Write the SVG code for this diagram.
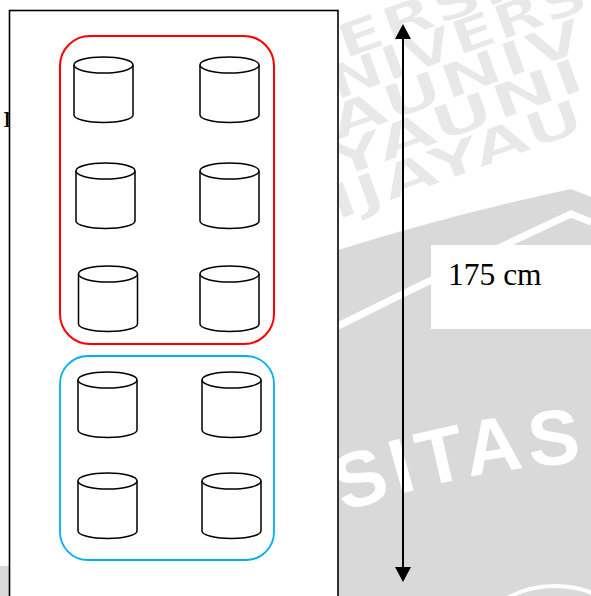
<svg xmlns="http://www.w3.org/2000/svg" width="591" height="596" viewBox="0 0 591 596">
  <style>
    .wm { fill: #e8e8e8; stroke: #ffffff; stroke-width: 1.5; font-family: "DejaVu Sans", "Liberation Sans", sans-serif; font-weight: bold; font-size: 48px; }
    .seal { fill: #ffffff; font-family: "Liberation Sans", Arial, sans-serif; font-weight: bold; font-size: 78px; letter-spacing: 5px; }
    .frame { fill: #ffffff; stroke: #000000; stroke-width: 1.6; }
    .zone-red { fill: none; stroke: #ff0000; stroke-width: 2; }
    .zone-blue { fill: none; stroke: #00b0f0; stroke-width: 1.8; }
    .cyl { fill: #ffffff; stroke: #000000; stroke-width: 1.5; }
    .dim { stroke: #000000; stroke-width: 2; fill: none; }
    .label { font-family: "Liberation Serif", "Times New Roman", serif; font-size: 31.5px; fill: #000000; }
  </style>
  <defs>
    <clipPath id="page">
      <rect x="0" y="0" width="591" height="596"/>
    </clipPath>
    <path id="sealArc" d="M300,530 Q460,462 620,462"/>
    <marker id="arrow" viewBox="0 0 15 16" markerUnits="userSpaceOnUse" markerWidth="15" markerHeight="16" refX="1" refY="8" orient="auto-start-reverse">
      <path d="M0,0 L15,8 L0,16 Z" fill="#000000"/>
    </marker>
    <!-- one drum: top ellipse at (0,0), body 50 high -->
    <g id="drum">
      <path class="cyl" d="M-29.5,0 V50 A29.5,7.5 0 0 0 29.5,50 V0"/>
      <ellipse class="cyl" cx="0" cy="0" rx="29.5" ry="8"/>
    </g>
  </defs>

  <!-- page background with faint watermark -->
  <rect x="0" y="0" width="591" height="596" fill="#ffffff"/>
  <g clip-path="url(#page)">
    <text class="wm" x="344" y="60" transform="rotate(-20 344 60)" textLength="272" lengthAdjust="spacingAndGlyphs">ERSITA</text>
    <text class="wm" x="336" y="101" transform="rotate(-20 336 101)" textLength="272" lengthAdjust="spacingAndGlyphs">NIVERS</text>
    <text class="wm" x="336" y="141" transform="rotate(-20 336 141)" textLength="268" lengthAdjust="spacingAndGlyphs">AUNIV</text>
    <text class="wm" x="336" y="180" transform="rotate(-20 336 180)" textLength="268" lengthAdjust="spacingAndGlyphs">YAUNI</text>
    <text class="wm" x="336" y="221" transform="rotate(-20 336 221)" textLength="268" lengthAdjust="spacingAndGlyphs">IJAYAU</text>

    <path d="M338,250 Q450,215 571,189 L591,197 V596 H338 Z" fill="#d9d9d9"/>
    <path d="M338,326 Q450,270 571,214 L591,222" fill="none" stroke="#ffffff" stroke-width="7"/>
    <text class="seal"><textPath href="#sealArc" startOffset="47">SITAS</textPath></text>
    <path d="M490,610 A100,100 0 0 1 620,610" fill="none" stroke="#ffffff" stroke-width="4"/>
    <rect x="0" y="566" width="9" height="30" fill="#d9d9d9"/>
  </g>

  <!-- stray text fragment left of the frame -->
  <text class="label" x="3.5" y="127">n</text>

  <!-- rack frame -->
  <g id="frame">
    <rect class="frame" x="9.5" y="10.5" width="328.5" height="600"/>
  </g>

  <!-- red zone with six drums -->
  <g id="zone-red">
    <rect class="zone-red" x="60" y="36" width="214" height="308" rx="30" ry="30"/>
  </g>
  <g id="drum-r1a"><use href="#drum" x="103.5" y="65"/></g>
  <g id="drum-r1b"><use href="#drum" x="229.5" y="65"/></g>
  <g id="drum-r2a"><use href="#drum" x="105.5" y="171"/></g>
  <g id="drum-r2b"><use href="#drum" x="229.5" y="171"/></g>
  <g id="drum-r3a"><use href="#drum" x="108" y="274"/></g>
  <g id="drum-r3b"><use href="#drum" x="229.5" y="274"/></g>

  <!-- blue zone with four drums -->
  <g id="zone-blue">
    <rect class="zone-blue" x="60" y="356" width="214" height="204" rx="28" ry="28"/>
  </g>
  <g id="drum-b1a"><use href="#drum" x="107.5" y="380"/></g>
  <g id="drum-b1b"><use href="#drum" x="231.5" y="380"/></g>
  <g id="drum-b2a"><use href="#drum" x="107.5" y="481"/></g>
  <g id="drum-b2b"><use href="#drum" x="231.5" y="481"/></g>

  <!-- height dimension -->
  <g id="connectors">
    <line class="dim" x1="403" y1="38" x2="403" y2="568" marker-start="url(#arrow)" marker-end="url(#arrow)"/>
  </g>
  <g id="height-label">
    <rect x="431" y="245" width="160" height="84" fill="#ffffff"/>
    <text class="label" x="448" y="285">175 cm</text>
  </g>
</svg>
